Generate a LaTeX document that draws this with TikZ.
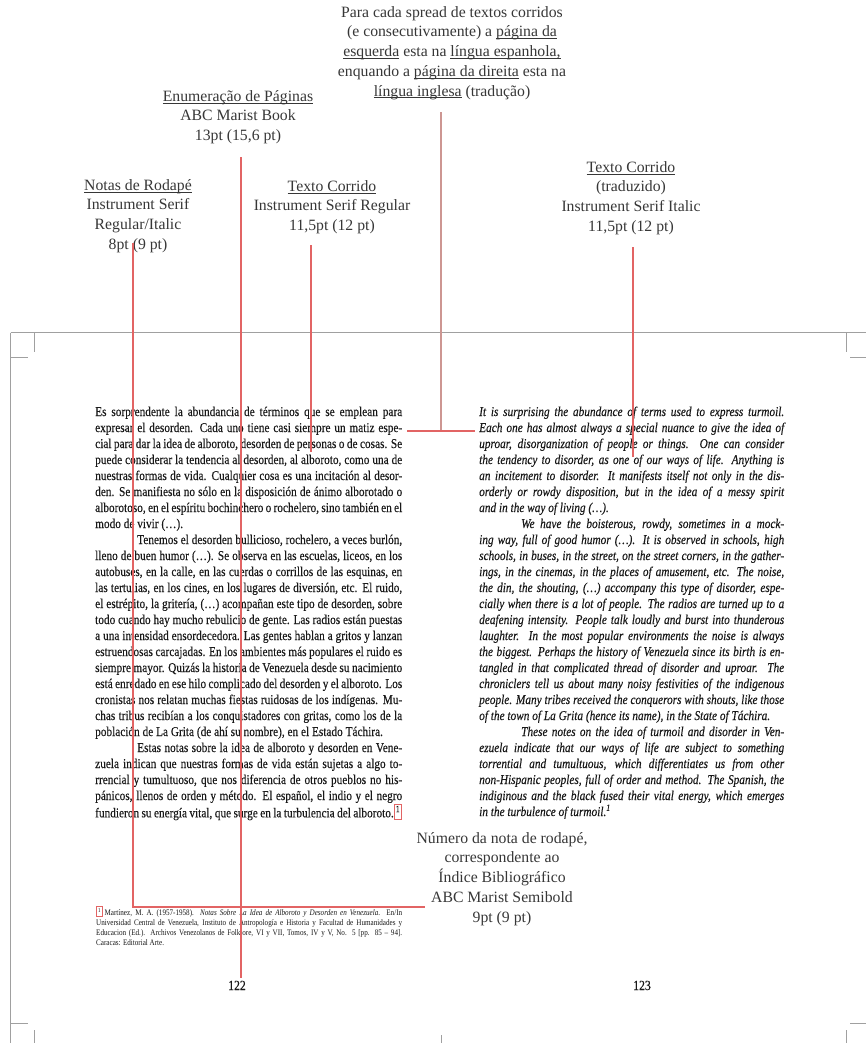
\documentclass[tikz,border=0pt]{standalone}
\usepackage{fontspec}
\setmainfont{Liberation Serif}
\newfontfamily\bodyrm[FakeStretch=0.84,FakeBold=0.25]{Liberation Serif}
\newfontfamily\footrm[FakeStretch=0.84]{Liberation Serif}
\definecolor{lead}{RGB}{226,100,100}
\definecolor{leadc}{RGB}{205,150,146}
\definecolor{framec}{RGB}{160,160,160}
\definecolor{anno}{RGB}{55,55,55}
\definecolor{ink}{RGB}{25,25,25}
\newlength\colw
\setlength\colw{307bp}
\newcommand\J[1]{\hbox to \colw{#1}}
\newcommand\Jl[1]{\hbox to \colw{#1\hfil}}
\newcommand\Ji[1]{\hbox to \colw{\hspace*{42bp}#1}}
\newcommand\ul[1]{\setbox0\hbox{#1}\rlap{\vrule height -1.4pt depth 2.1pt width \wd0}\box0\relax}
\newcommand\fnbox{{\color{lead}\fboxsep=1.2pt\fboxrule=0.8pt\fbox{\color{ink}\textsuperscript{1}}}}
\tikzset{
  annot/.style={align=center, inner sep=0, text=anno, font=\fontsize{15.8}{19.8}\selectfont, anchor=north},
  leader/.style={draw=lead, line width=1.2bp},
  leaderc/.style={draw=leadc, line width=1.2bp},
  framel/.style={draw=framec, line width=0.9bp},
  body/.style={inner sep=0, text=ink, anchor=base west},
}
\begin{document}
\begin{tikzpicture}[x=1bp,y=-1bp]
\fill[white] (0,0) rectangle (866,1043);
\useasboundingbox (0,0) rectangle (866,1043);

% frame
\draw[framel] (10.5,332.5) -- (866,332.5);
\draw[framel] (10.5,332.5) -- (10.5,1043);
\draw[framel] (34.5,332.5) -- (34.5,352);
\draw[framel] (10.5,357.5) -- (28,357.5);
\draw[framel] (846.5,332.5) -- (846.5,352);
\draw[framel] (850,357.5) -- (866,357.5);
\draw[framel] (441,332.5) -- (441,343);
\draw[framel] (10.5,1023.5) -- (28,1023.5);
\draw[framel] (34.5,1030) -- (34.5,1043);
\draw[framel] (850,1023.5) -- (866,1023.5);
\draw[framel] (846.5,1030) -- (846.5,1043);
\draw[framel] (441,1035) -- (441,1043);

% annotations
\node[annot] (spread) at (452,6) {Para cada spread de textos corridos\\
(e consecutivamente) a \ul{página da}\\
\ul{esquerda} esta na \ul{língua espanhola,}\\
enquando a \ul{página da direita} esta na\\
\ul{língua inglesa} (tradução)};
\node[annot] (enum) at (238,90) {\ul{Enumeração de Páginas}\\ABC Marist Book\\13pt (15,6 pt)};
\node[annot] (notas) at (138,179) {\ul{Notas de Rodapé}\\Instrument Serif\\Regular/Italic\\8pt (9 pt)};
\node[annot] (texto) at (332,180) {\ul{Texto Corrido}\\Instrument Serif Regular\\11,5pt (12 pt)};
\node[annot] (trad) at (631,161) {\ul{Texto Corrido}\\(traduzido)\\Instrument Serif Italic\\11,5pt (12 pt)};
\node[annot] (numero) at (502,832) {Número da nota de rodapé,\\correspondente ao\\Índice Bibliográfico\\ABC Marist Semibold\\9pt (9 pt)};

% left column
\node[body] (left) at (95,416) {\bodyrm\fontsize{13.5}{16bp}\selectfont\setlength\colw{307bp}\vtop{%
\J{Es sorprendente la abundancia de términos que se emplean para}
\J{expresar el desorden. Cada uno tiene casi siempre un matiz espe-}
\J{cial para dar la idea de alboroto, desorden de personas o de cosas. Se}
\J{puede considerar la tendencia al desorden, al alboroto, como una de}
\J{nuestras formas de vida. Cualquier cosa es una incitación al desor-}
\J{den. Se manifiesta no sólo en la disposición de ánimo alborotado o}
\J{alborotoso, en el espíritu bochinchero o rochelero, sino también en el}
\Jl{modo de vivir (…).}
\Ji{Tenemos el desorden bullicioso, rochelero, a veces burlón,}
\J{lleno de buen humor (…). Se observa en las escuelas, liceos, en los}
\J{autobuses, en la calle, en las cuerdas o corrillos de las esquinas, en}
\J{las tertulias, en los cines, en los lugares de diversión, etc. El ruido,}
\J{el estrépito, la gritería, (…) acompañan este tipo de desorden, sobre}
\J{todo cuando hay mucho rebulicio de gente. Las radios están puestas}
\J{a una intensidad ensordecedora. Las gentes hablan a gritos y lanzan}
\J{estruendosas carcajadas. En los ambientes más populares el ruido es}
\J{siempre mayor. Quizás la historia de Venezuela desde su nacimiento}
\J{está enredado en ese hilo complicado del desorden y el alboroto. Los}
\J{cronistas nos relatan muchas fiestas ruidosas de los indígenas. Mu-}
\J{chas tribus recibían a los conquistadores con gritas, como los de la}
\Jl{población de La Grita (de ahí su nombre), en el Estado Táchira.}
\Ji{Estas notas sobre la idea de alboroto y desorden en Vene-}
\J{zuela indican que nuestras formas de vida están sujetas a algo to-}
\J{rrencial y tumultuoso, que nos diferencia de otros pueblos no his-}
\J{pánicos, llenos de orden y método. El español, el indio y el negro}
\J{fundieron su energía vital, que surge en la turbulencia del alboroto.\fnbox}
}};

% right column
\node[body] (right) at (479,416) {\bodyrm\itshape\fontsize{13.5}{16bp}\selectfont\setlength\colw{305bp}\vtop{%
\J{It is surprising the abundance of terms used to express turmoil.}
\J{Each one has almost always a special nuance to give the idea of}
\J{uproar, disorganization of people or things. One can consider}
\J{the tendency to disorder, as one of our ways of life. Anything is}
\J{an incitement to disorder. It manifests itself not only in the dis-}
\J{orderly or rowdy disposition, but in the idea of a messy spirit}
\Jl{and in the way of living (…).}
\Ji{We have the boisterous, rowdy, sometimes in a mock-}
\J{ing way, full of good humor (…). It is observed in schools, high}
\J{schools, in buses, in the street, on the street corners, in the gather-}
\J{ings, in the cinemas, in the places of amusement, etc. The noise,}
\J{the din, the shouting, (…) accompany this type of disorder, espe-}
\J{cially when there is a lot of people. The radios are turned up to a}
\J{deafening intensity. People talk loudly and burst into thunderous}
\J{laughter. In the most popular environments the noise is always}
\J{the biggest. Perhaps the history of Venezuela since its birth is en-}
\J{tangled in that complicated thread of disorder and uproar. The}
\J{chroniclers tell us about many noisy festivities of the indigenous}
\J{people. Many tribes received the conquerors with shouts, like those}
\Jl{of the town of La Grita (hence its name), in the State of Táchira.}
\Ji{These notes on the idea of turmoil and disorder in Ven-}
\J{ezuela indicate that our ways of life are subject to something}
\J{torrential and tumultuous, which differentiates us from other}
\J{non-Hispanic peoples, full of order and method. The Spanish, the}
\J{indiginous and the black fused their vital energy, which emerges}
\Jl{in the turbulence of turmoil.\textsuperscript{1}}
}};

% footnote
\node[body] (foot) at (96,915) {\footrm\fontsize{8.5}{10bp}\selectfont\setlength\colw{306bp}\vtop{%
\J{\fnbox\,Martínez, M. A. (1957-1958). \textit{Notas Sobre La Idea de Alboroto y Desorden en Venezuela}. En/In}
\J{Universidad Central de Venezuela, Instituto de Antropología e Historia y Facultad de Humanidades y}
\J{Educacion (Ed.). Archivos Venezolanos de Folklore, VI y VII, Tomos, IV y V, No. 5 [pp. 85 – 94].}
\Jl{Caracas: Editorial Arte.}
}};

% page numbers
\node[inner sep=0, text=ink, anchor=base] (p122) at (237,990) {\bodyrm\fontsize{14}{16}\selectfont 122};
\node[inner sep=0, text=ink, anchor=base] (p123) at (642,990) {\bodyrm\fontsize{14}{16}\selectfont 123};

% leader lines
\coordinate (a1) at (133,243); \coordinate (a2) at (133,907); \coordinate (a3) at (425,907);
\draw[leader] (a1) -- (a2) -- (a3);
\coordinate (b1) at (241,157); \coordinate (b2) at (241,978);
\draw[leader] (b1) -- (b2);
\coordinate (c1) at (311,245); \coordinate (c2) at (311,452);
\draw[leader] (c1) -- (c2);
\coordinate (d1) at (633,247); \coordinate (d2) at (633,457);
\draw[leader] (d1) -- (d2);
\coordinate (e1) at (441,112); \coordinate (e2) at (441,431);
\coordinate (e3) at (407,431); \coordinate (e4) at (475,431);
\draw[leaderc] (e1) -- (e2);
\draw[leader] (e3) -- (e4);
\end{tikzpicture}
\end{document}
